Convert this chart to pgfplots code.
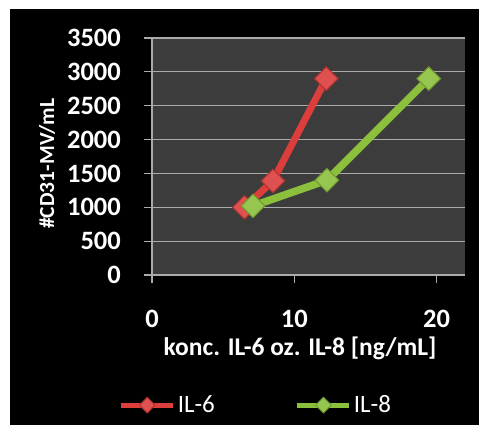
\documentclass[border=0pt]{standalone}
\usepackage{pgfplots}
\pgfplotsset{compat=1.18}
\usepackage{fontspec}
\setmainfont{Carlito}
\definecolor{plotbg}{RGB}{60,60,61}
\definecolor{gridc}{RGB}{170,170,170}
\definecolor{ilsix}{RGB}{220,62,60}
\definecolor{ileight}{RGB}{140,192,60}
\begin{document}
\begin{tikzpicture}
\fill[white] (0pt,0pt) rectangle (479pt,425pt);
\fill[black] (10pt,0pt) rectangle (479pt,416pt);
\useasboundingbox (0pt,0pt) rectangle (479pt,425pt);
\begin{axis}[
  at={(152pt,150pt)}, anchor=south west,
  scale only axis, width=313pt, height=237pt,
  xmin=0, xmax=22, ymin=0, ymax=3500,
  xtick={0,10,20}, ytick={0,500,...,3500},
  axis background/.style={fill=plotbg},
  ymajorgrids, grid style={gridc, line width=1.2pt},
  axis lines*=left,
  axis line style={gridc, line width=1.2pt},
  tick style={gridc, line width=1.2pt},
  tick align=outside, major tick length=8pt,
  /pgf/number format/assume math mode=true,
  /pgf/number format/set thousands separator={},
  ticklabel style={font=\fontsize{26.5}{30}\selectfont\bfseries, text=white},
  y tick label style={anchor=east, inner sep=0pt, xshift=-23pt},
  x tick label style={anchor=north, inner sep=0pt, yshift=-27pt},
  xlabel={konc. IL-6 oz. IL-8 [ng/mL]},
  x label style={at={(axis description cs:0.473,-0.308)}, anchor=center, font=\fontsize{25.5}{30}\selectfont\bfseries, text=white},
  ylabel={\#CD31-MV/mL},
  y label style={at={(axis description cs:-0.335,0.47)}, anchor=center, font=\fontsize{21.5}{26}\selectfont\bfseries, text=white},
  legend style={at={(axis description cs:0.332,-0.549)}, anchor=center, draw=none, fill=none, text=white,
    font=\fontsize{25}{28}\selectfont, legend columns=2,
    /tikz/every even column/.append style={column sep=78pt}},
  legend image code/.code={\draw[#1, line width=5pt] (0pt,0pt) -- (52pt,0pt);
    \draw[#1, mark size=5.5pt] plot coordinates {(26pt,0pt)};},
]
\addplot[ilsix, line width=7pt, mark=square*, mark size=8.3pt,
  mark options={rotate=45, fill=ilsix!90!white, draw=ilsix!80!black, line width=1pt, solid}]
  coordinates {(6.5,1000) (8.5,1390) (12.25,2900)};
\addlegendentry{IL-6}
\addplot[ileight, line width=7.5pt, mark=square*, mark size=8.3pt,
  mark options={rotate=45, fill=ileight!90!white, draw=ileight!80!black, line width=1pt, solid}]
  coordinates {(7.1,1020) (12.3,1400) (19.45,2900)};
\addlegendentry{IL-8}
\end{axis}
\end{tikzpicture}
\end{document}
